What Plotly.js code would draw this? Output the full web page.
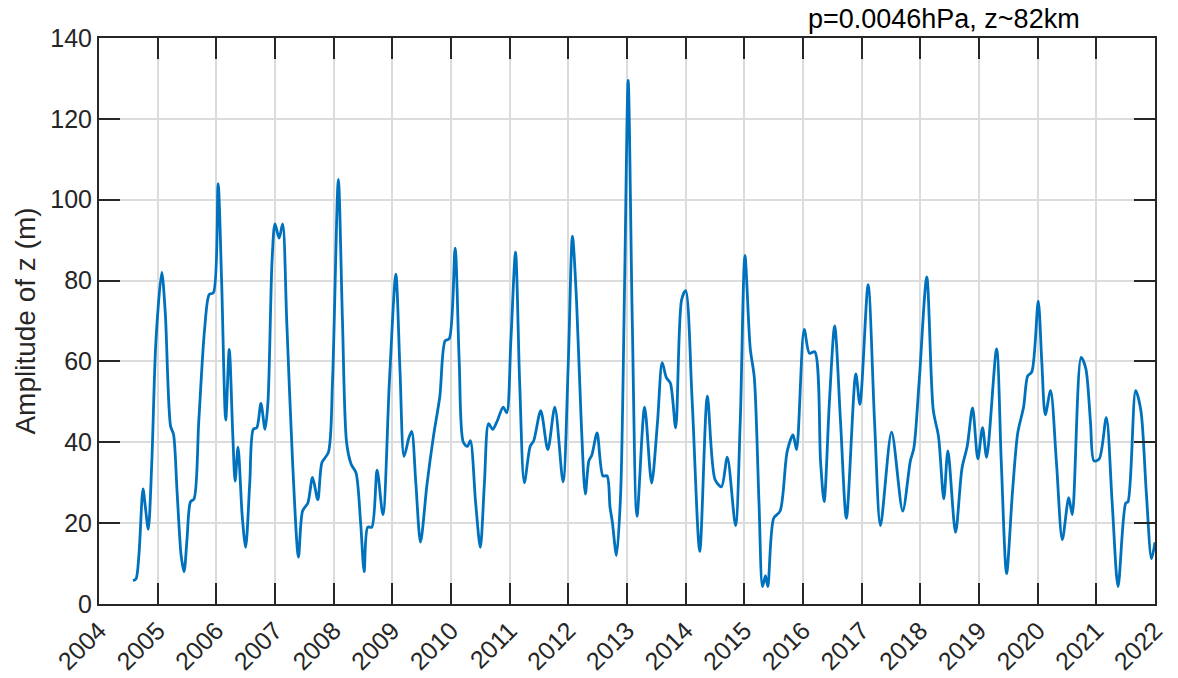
<!DOCTYPE html>
<html>
<head>
<meta charset="utf-8">
<script src="https://cdn.plot.ly/plotly-3.0.1.min.js"></script>
<style>html,body{margin:0;padding:0;background:#fff;}#chart{width:1178px;height:678px;}</style>
</head>
<body>
<div id="chart"></div>
<script>
const years = [
2004.58,2004.63,2004.68,2004.75,2004.79,2004.84,2004.90,2004.97,2005.07,2005.13,
2005.22,2005.27,2005.33,2005.40,2005.45,2005.50,2005.56,2005.62,2005.70,2005.80,
2005.88,2005.95,2006.03,2006.09,2006.16,2006.22,2006.28,2006.32,2006.37,2006.44,
2006.50,2006.57,2006.63,2006.69,2006.76,2006.83,2006.88,2006.95,2007.00,2007.07,
2007.13,2007.20,2007.30,2007.40,2007.47,2007.56,2007.64,2007.73,2007.80,2007.91,
2007.98,2008.08,2008.15,2008.22,2008.30,2008.38,2008.46,2008.52,2008.58,2008.65,
2008.74,2008.84,2008.95,2009.06,2009.13,2009.20,2009.28,2009.33,2009.40,2009.48,
2009.59,2009.70,2009.81,2009.90,2009.97,2010.07,2010.14,2010.21,2010.28,2010.33,
2010.42,2010.50,2010.57,2010.64,2010.71,2010.78,2010.89,2010.95,2011.02,2011.10,
2011.17,2011.25,2011.35,2011.41,2011.53,2011.65,2011.77,2011.91,2012.00,2012.07,
2012.14,2012.22,2012.29,2012.35,2012.40,2012.49,2012.59,2012.66,2012.71,2012.75,
2012.82,2012.89,2012.96,2013.02,2013.09,2013.17,2013.30,2013.42,2013.52,2013.60,
2013.67,2013.74,2013.83,2013.93,2014.00,2014.11,2014.24,2014.37,2014.50,2014.61,
2014.71,2014.85,2014.93,2015.01,2015.10,2015.17,2015.25,2015.31,2015.36,2015.40,
2015.50,2015.61,2015.73,2015.83,2015.89,2016.02,2016.11,2016.20,2016.30,2016.36,
2016.45,2016.54,2016.64,2016.74,2016.90,2016.97,2017.11,2017.22,2017.32,2017.51,
2017.70,2017.83,2017.89,2017.98,2018.11,2018.22,2018.31,2018.40,2018.47,2018.60,
2018.71,2018.80,2018.89,2018.98,2019.06,2019.13,2019.30,2019.38,2019.47,2019.57,
2019.66,2019.76,2019.83,2019.90,2020.01,2020.07,2020.13,2020.22,2020.32,2020.42,
2020.53,2020.59,2020.74,2020.82,2020.90,2020.96,2021.05,2021.17,2021.27,2021.37,
2021.50,2021.54,2021.67,2021.76,2021.85,2021.94,2022.00];
const amplitude = [
5.8,6.2,12,28.5,24,18.5,35,65,82,72,
44,42,28,12,8,16,25.3,26,45,68,
76.6,77,104,80,45.5,63,42,30.4,38.8,22,
14,30,43.2,43.6,49.6,43.2,50,85,94,90.5,
94,70,35,11.6,23,25,31.3,25.8,35,37.5,
55,105,70,40,34.5,32.5,20,8,19,19,
33.1,22.1,55,81.6,58,36.5,41,42.7,30,15.3,
29.5,41.4,51.4,65.1,65.6,88,60,40,39,40.4,
25,14,30,44.6,43.2,45,48.7,47.3,65,87,
55,30,39,40.4,47.8,38.2,48.7,30.2,60,91,
75,45,27.2,35.4,36.8,42.3,31.7,31.7,24,20.3,
12,26.7,80,129.5,70,21.7,48.7,29.9,45,59.7,
56,54.6,43.6,75.2,77.5,50.5,13,51.4,30.8,29,
36.3,19.4,45,86.2,63.3,56,25,4.3,7,4.3,
21.2,23,37.7,41.8,38.2,67.9,62,62.4,35,25.3,
50,68.8,45,21.2,56.9,49.4,79,45,19.4,42.5,
23,35.4,38.6,55,80.9,48,41.4,26,37.9,17.7,
33.6,39.1,48.5,35.9,43.6,36.3,63.1,35,7.5,27.6,
42.3,48.7,56.4,57.4,74.9,60,46.8,52.8,35,15.9,
26.3,22.1,61,58.3,45,35.4,35.9,46.1,25,4.3,
24.9,25.3,52.8,47.8,28,11.2,15.3];
const tickYears = [2004,2005,2006,2007,2008,2009,2010,2011,2012,2013,2014,2015,2016,2017,2018,2019,2020,2021,2022];
const tickLabels = tickYears.map(String);
const yTicks = [0,20,40,60,80,100,120,140];

const axisColor = '#262626';
const fontFam = '"Liberation Sans", Arial, Helvetica, sans-serif';

const trace = {
  x: years, y: amplitude, type: 'scatter', mode: 'lines',
  line: {color: '#0072BD', width: 2.8, shape: 'spline', smoothing: 0.8},
  hoverinfo: 'x+y'
};

const common = {
  showline: true, linecolor: axisColor, linewidth: 2, mirror: 'allticks',
  ticks: 'inside', ticklen: 21, tickwidth: 2, tickcolor: axisColor,
  showgrid: true, gridcolor: '#dcdcdc', gridwidth: 2, zeroline: false,
  tickfont: {family: fontFam, size: 25, color: axisColor}
};

const layout = {
  width: 1178, height: 678,
  margin: {l: 99, r: 23, t: 38, b: 74},
  paper_bgcolor: '#ffffff', plot_bgcolor: '#ffffff',
  showlegend: false,
  font: {family: fontFam, color: axisColor},
  title: {text: 'p=0.0046hPa, z~82km', font: {family: fontFam, size: 27, color: '#000000'},
          xref: 'paper', x: 0.8, xanchor: 'center', yref: 'container', y: 0.972, yanchor: 'middle'},
  xaxis: Object.assign({}, common, {
    range: [2004, 2022], tickmode: 'array', tickvals: tickYears, ticktext: tickLabels,
    tickangle: -45
  }),
  yaxis: Object.assign({}, common, {
    range: [0, 140], tickmode: 'array', tickvals: yTicks, ticktext: yTicks.map(String),
    title: {text: 'Amplitude of z (m)', font: {family: fontFam, size: 28, color: axisColor}, standoff: 6}
  })
};

Plotly.newPlot('chart', [trace], layout, {displayModeBar: false, staticPlot: true});
</script>
</body>
</html>
